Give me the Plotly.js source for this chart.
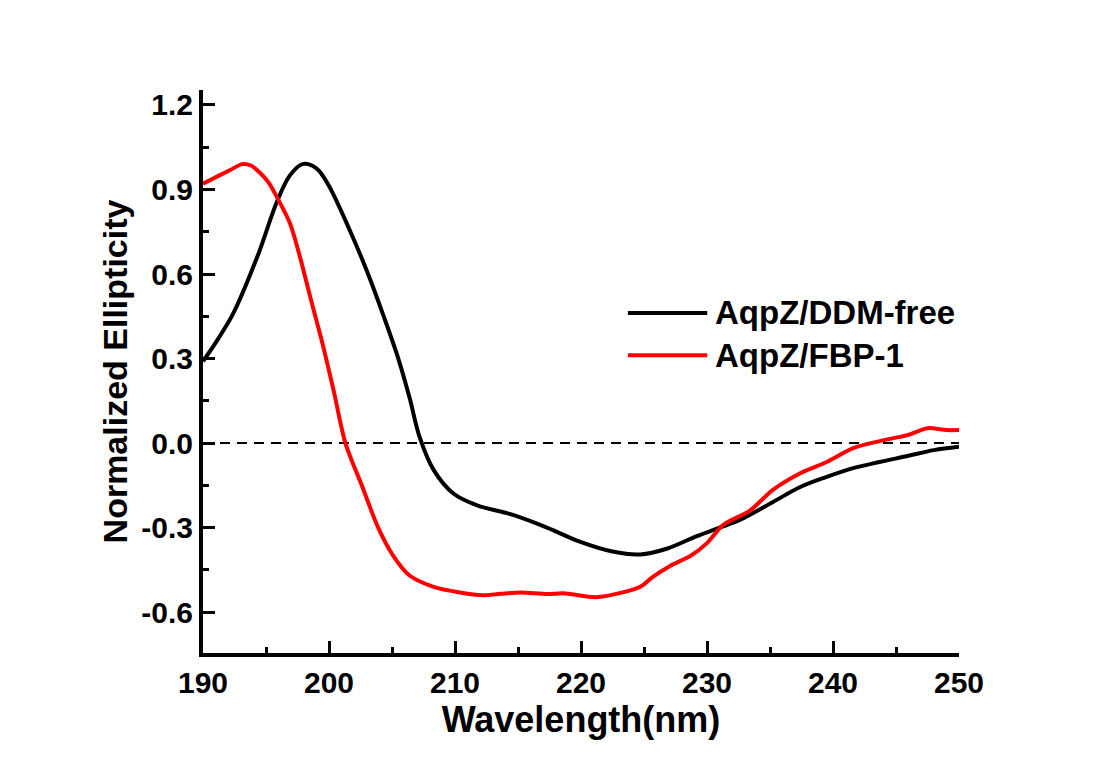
<!DOCTYPE html>
<html>
<head>
<meta charset="utf-8">
<script src="https://cdn.plot.ly/plotly-3.0.1.min.js"></script>
<style>html,body{margin:0;padding:0;background:#fff;}#chart{width:1098px;height:779px;}</style>
</head>
<body>
<div id="chart"></div>
<script>
// ---- data ----
const seriesNames = ["AqpZ/DDM-free", "AqpZ/FBP-1"];
const seriesColors = ["#000000", "#ff0000"];

const ddmWavelength = [190, 191.2, 192.4, 194.3, 195.9, 196.9, 197.9, 199.0, 199.9, 201.7, 203.1, 204.3, 205.5, 206.4, 207.2, 208.3, 209.9, 211.7, 214.6, 217.3, 219.9, 222.5, 224.7, 226.8, 229.2, 231, 232.6, 235.2, 237.4, 239.5, 241.6, 243.7, 245.9, 248, 250];
const ddmEllipticity = [0.29, 0.37, 0.46, 0.66, 0.86, 0.95, 0.99, 0.975, 0.92, 0.75, 0.60, 0.455, 0.30, 0.16, 0.02, -0.095, -0.18, -0.22, -0.255, -0.30, -0.35, -0.385, -0.395, -0.375, -0.33, -0.30, -0.273, -0.21, -0.156, -0.12, -0.089, -0.067, -0.046, -0.025, -0.013];

const fbpWavelength = [190, 191.3, 192.2, 193.1, 193.8, 194.5, 195.2, 195.9, 196.9, 197.7, 198.5, 199.5, 200.4, 201.3, 202.6, 203.9, 205.1, 206.4, 208.3, 210.4, 212.2, 213.6, 215.2, 217.3, 218.6, 221.2, 223.3, 224.7, 225.7, 227.1, 228.7, 230, 231.3, 233.4, 235.2, 237.4, 239.5, 241.6, 243.7, 245.9, 247.5, 249, 250];
const fbpEllipticity = [0.92, 0.95, 0.97, 0.99, 0.985, 0.96, 0.925, 0.87, 0.78, 0.66, 0.52, 0.35, 0.18, 0.0, -0.15, -0.30, -0.40, -0.47, -0.51, -0.53, -0.54, -0.535, -0.53, -0.536, -0.533, -0.547, -0.53, -0.51, -0.475, -0.435, -0.40, -0.355, -0.29, -0.24, -0.167, -0.107, -0.067, -0.018, 0.007, 0.028, 0.053, 0.046, 0.046];

const xTickVals = [190, 200, 210, 220, 230, 240, 250];
const xTickText = ["190", "200", "210", "220", "230", "240", "250"];
const yTickVals = [-0.6, -0.3, 0.0, 0.3, 0.6, 0.9, 1.2];
const yTickText = ["-0.6", "-0.3", "0.0", "0.3", "0.6", "0.9", "1.2"];
const referenceLevel = 0;

const xTitle = "Wavelength(nm)";
const yTitle = "Normalized Ellipticity";

// ---- drawing ----
const FONT = "Liberation Sans, Arial, sans-serif";

const traces = [
  {x: ddmWavelength, y: ddmEllipticity, name: seriesNames[0], mode: "lines",
   line: {color: seriesColors[0], width: 4, shape: "spline", smoothing: 1}},
  {x: fbpWavelength, y: fbpEllipticity, name: seriesNames[1], mode: "lines",
   line: {color: seriesColors[1], width: 4, shape: "spline", smoothing: 0.8}}
];

const legendX0 = 0.562, legendX1 = 0.667, legendTextX = 0.674;
const legendY = [0.604, 0.529];

const shapes = [
  {type: "line", xref: "paper", yref: "y", x0: 0, x1: 1, y0: referenceLevel, y1: referenceLevel,
   line: {color: "#000", width: 2, dash: "10px,7px"}, layer: "below"}
];
const annotations = [];
seriesNames.forEach((n, i) => {
  shapes.push({type: "line", xref: "paper", yref: "paper", x0: legendX0, x1: legendX1,
    y0: legendY[i], y1: legendY[i], line: {color: seriesColors[i], width: 4}});
  annotations.push({xref: "paper", yref: "paper", x: legendTextX, y: legendY[i],
    xanchor: "left", yanchor: "middle", text: n, showarrow: false,
    font: {family: FONT, size: 33, color: "#000", weight: 700}});
});

const layout = {
  width: 1098, height: 779,
  paper_bgcolor: "#ffffff", plot_bgcolor: "#ffffff",
  margin: {l: 203, r: 139, t: 90, b: 126},
  showlegend: false,
  font: {family: FONT, color: "#000", weight: 700},
  xaxis: {
    range: [190, 250], showgrid: false, zeroline: false,
    showline: true, linecolor: "#000", linewidth: 4,
    ticks: "inside", ticklen: 12, tickwidth: 3, tickcolor: "#000",
    tickvals: xTickVals, ticktext: xTickText,
    tickfont: {family: FONT, size: 30, color: "#000", weight: 700},
    ticklabelstandoff: 0,
    minor: {dtick: 5, ticks: "inside", ticklen: 6, tickwidth: 3, tickcolor: "#000", showgrid: false},
    title: {text: xTitle, font: {family: FONT, size: 36, color: "#000", weight: 700}, standoff: 2}
  },
  yaxis: {
    range: [-0.745, 1.253], showgrid: false, zeroline: false,
    showline: true, linecolor: "#000", linewidth: 4,
    ticks: "inside", ticklen: 12, tickwidth: 3, tickcolor: "#000",
    tickvals: yTickVals, ticktext: yTickText,
    tickfont: {family: FONT, size: 30, color: "#000", weight: 700},
    ticklabelstandoff: 0,
    minor: {dtick: 0.15, tick0: 0, ticks: "inside", ticklen: 6, tickwidth: 3, tickcolor: "#000", showgrid: false},
    title: {text: yTitle, font: {family: FONT, size: 34, color: "#000", weight: 700}, standoff: 4}
  },
  shapes: shapes,
  annotations: annotations
};

Plotly.newPlot("chart", traces, layout, {displayModeBar: false, staticPlot: true});
</script>
</body>
</html>
